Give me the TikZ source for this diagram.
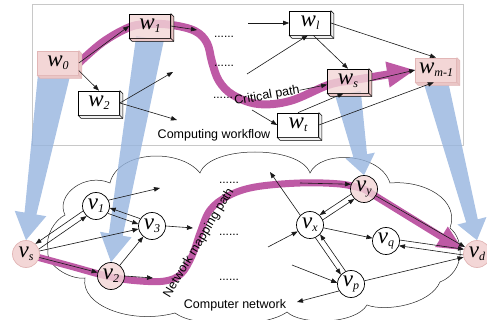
\documentclass[tikz,border=0pt]{standalone}
\usepackage{fontspec}
\setmainfont{Liberation Serif}
\setsansfont{Liberation Sans}
\usetikzlibrary{arrows.meta,calc}

\pgfdeclarelayer{bg}
\pgfdeclarelayer{hl}
\pgfdeclarelayer{flow}
\pgfsetlayers{bg,hl,flow,main}

\definecolor{pinkfill}{RGB}{243,214,214}
\definecolor{pinkedge}{RGB}{226,182,182}
\definecolor{pinkside}{RGB}{234,198,198}
\definecolor{magline}{RGB}{190,90,165}
\definecolor{flowcol}{RGB}{150,180,222}
\definecolor{framegray}{RGB}{200,200,200}

% italic label with a lowered subscript
\newcommand{\wlab}[2]{{\fontsize{23}{23}\selectfont\itshape #1}{\fontsize{12}{12}\selectfont\itshape\raisebox{-3pt}{#2}}}

% extruded right and bottom faces of a task box
\newcommand{\taskside}[3]{%
  \filldraw[fill=#2, draw=#3, line width=0.6pt, line join=round]
    (#1.north east) -- ++(3,3) -- ($(#1.south east)+(3,3)$) -- ($(#1.south west)+(3,3)$)
    -- (#1.south west) -- (#1.south east) -- cycle;
  \draw[#3, line width=0.6pt] (#1.south east) -- ++(3,3);}

% broad tapering block arrow: name, start, tip, start half-width, neck half-width, head half-width, head length
\newcommand{\mapflow}[7]{%
  \coordinate (#1h) at ($(#3)!#7!(#2)$);
  \fill[flowfill] ($(#2)!#4!90:(#3)$) -- ($(#1h)!#5!90:(#3)$) -- ($(#1h)!#6!90:(#3)$) -- (#3)
    -- ($(#1h)!#6!-90:(#3)$) -- ($(#1h)!#5!-90:(#3)$) -- ($(#2)!#4!-90:(#3)$) -- cycle;}

\tikzset{
  task/.style={rectangle, minimum width=41pt, minimum height=24pt, inner sep=0pt,
    draw=black, line width=0.7pt, fill=white},
  hottask/.style={task, fill=pinkfill, fill opacity=0.8, text opacity=1},
  softtask/.style={task, draw=pinkedge, fill=pinkfill},
  host/.style={circle, minimum size=27pt, inner sep=0pt, draw=black, line width=0.7pt, fill=white},
  hothost/.style={host, fill=pinkfill, fill opacity=0.8, text opacity=1},
  softhost/.style={host, draw=pinkedge, fill=pinkfill},
  link/.style={line width=0.6pt, draw=black!90, -{Triangle[length=6pt,width=4.5pt]}},
  hilite/.style={line width=8pt, draw=magline, line cap=round, line join=round},
  flowfill/.style={fill=flowcol, fill opacity=0.8},
  dotrow/.style={font=\sffamily\fontsize{12}{12}\selectfont, inner sep=0pt},
  caption/.style={font=\sffamily\fontsize{12.5}{12.5}\selectfont, inner sep=0pt},
}

\begin{document}
\begin{tikzpicture}[x=1pt,y=-1pt]
\useasboundingbox (0,0) rectangle (487,320);

% ---------- workflow tasks ----------
\node[softtask] (w0) at (58,63) {\wlab{w}{0}};
\node[hottask] (w1) at (150,26) {\wlab{w}{1}};
\node[task] (w2) at (99,103) {\wlab{w}{2}};
\node[task] (wl) at (310,23) {\wlab{w}{l}};
\node[hottask] (ws) at (348,81) {\wlab{w}{s}};
\node[softtask] (wm) at (436,70) {\wlab{w}{m-1}};
\node[task] (wt) at (298,125) {\wlab{w}{t}};

\taskside{w0}{pinkside}{pinkedge}
\taskside{w1}{pinkside}{black}
\taskside{w2}{black!6}{black}
\taskside{wl}{black!6}{black}
\taskside{ws}{pinkside}{black}
\taskside{wm}{pinkside}{pinkedge}
\taskside{wt}{black!6}{black}

% ---------- network hosts ----------
\node[softhost] (vs) at (26,254) {\wlab{v}{s}};
\node[host] (v1) at (96,206) {\wlab{v}{1}};
\node[host] (v3) at (152,226) {\wlab{v}{3}};
\node[hothost] (v2) at (111,276) {\wlab{v}{2}};
\node[host] (vx) at (310,225) {\wlab{v}{x}};
\node[hothost] (vy) at (364,189) {\wlab{v}{y}};
\node[host] (vq) at (386,241) {\wlab{v}{q}};
\node[host] (vp) at (351,284) {\wlab{v}{p}};
\node[softhost] (vd) at (477,254) {\wlab{v}{d}};

% ---------- texts ----------
\node[caption] at (214,135) {Computing workflow};
\node[caption] at (235,305) {Computer network};
\node[caption, rotate=10] (cp) at (267,96) {Critical path};
\node[caption, rotate=59] at (199,243) {Network mapping path};

\node[dotrow] at (224,37) {......};
\node[dotrow] at (224,66) {......};
\node[dotrow] at (223,98) {......};
\node[dotrow] at (229,183) {......};
\node[dotrow] at (229,235) {......};
\node[dotrow] at (229,280) {......};

% ---------- open ends ----------
\coordinate (c1) at (197,30);
\coordinate (c2) at (173,72);
\coordinate (c3) at (177,120);
\coordinate (c4) at (248,23);
\coordinate (c5) at (247,74);
\coordinate (c6) at (252,110);
\coordinate (c7) at (160,188);
\coordinate (c8) at (193,228);
\coordinate (c9) at (153,278);
\coordinate (c10) at (270,172);
\coordinate (c11) at (300,183);
\coordinate (c12) at (268,247);
\coordinate (c13) at (292,265);
\coordinate (c14) at (297,302);

% ---------- workflow dependencies ----------
\draw[link] (w0.east) -- (w1.west);
\draw[link] (w0.-20) -- (w2.north);
\draw[link] (w1.east) -- (c1);
\draw[link] (w2.east) -- (c2);
\draw[link] (w2.east) -- (c3);
\draw[link] (c4) -- (wl.west);
\draw[link] (c5) -- (wl.-100);
\draw[link] (wl.-75) -- (ws.north);
\draw[link] (wl.east) -- (wm.north);
\draw[link] (cp.east) -- (ws.-170);
\draw[link] (ws.east) -- (wm.west);
\draw[link] (c6) -- (wt.west);
\draw[link] (wt.north) -- (ws.-110);
\draw[link] (wt.east) -- (wm.-100);

% ---------- network links ----------
\draw[link] (v1.25) -- (c7);
\draw[link] (vs.21) -- (v1.227);
\draw[link] (v1.201) -- (vs.47);
\draw[link] (vs) -- (v3);
\draw[link] (vs) -- (v2);
\draw[link] (v1.-32) -- (v3.172);
\draw[link] (v3.148) -- (v1.-8);
\draw[link] (v2) -- (v3);
\draw[link] (v3.east) -- (c8);
\draw[link] (v2.east) -- (c9);
\draw[link] (vx.135) -- (c10);
\draw[link] (c11) -- (vy.160);
\draw[link] (vy.202) -- (vx.46);
\draw[link] (vx.22) -- (vy.226);
\draw[link] (c12) -- (vx);
\draw[link] (vx) -- (vq);
\draw[link] (vp.113) -- (vx.-43);
\draw[link] (vx.-67) -- (vp.137);
\draw[link] (c13) -- (vp.175);
\draw[link] (vp.-150) -- (c14);
\draw[link] (vp) -- (vd);
\draw[link] (vq.4) -- (vd.160);
\draw[link] (vd.184) -- (vq.-20);
\draw[link] (vy) -- (vd);

% ---------- frame and cloud ----------
\begin{pgfonlayer}{bg}
  \draw[framegray, line width=0.6pt] (32,4) rectangle (463,145);
  \draw[black!85, line width=0.5pt]
    (65,215) .. controls (55,195) and (85,172) .. (110,183)
    .. controls (118,150) and (180,148) .. (200,173)
    .. controls (210,145) and (300,145) .. (310,173)
    .. controls (320,150) and (380,152) .. (390,183)
    .. controls (425,180) and (460,200) .. (450,228)
    .. controls (465,240) and (465,272) .. (440,282)
    .. controls (430,305) and (385,312) .. (367,305)
    .. controls (355,325) and (300,325) .. (287,312)
    .. controls (265,328) and (195,328) .. (175,313)
    .. controls (130,325) and (80,305) .. (85,278)
    .. controls (70,280) and (45,265) .. (48,250)
    .. controls (45,235) and (55,220) .. (65,215) -- cycle;
\end{pgfonlayer}

% ---------- highlighted paths ----------
\begin{pgfonlayer}{hl}
  \draw[hilite] plot[smooth, tension=0.6] coordinates {(w0.east) (103,42) (130,27) (150,24) (172,25)
    (195,31) (207,43) (212,62) (219,81) (233,95) (258,104) (290,101) (328,85) (ws.center)};
  \draw[hilite, line cap=butt, -{Triangle[length=28pt 0,width=24pt 0]}] (ws.center) -- (wm.west);
  \draw[hilite, line width=7pt] plot[smooth, tension=0.6] coordinates {(vs.center) (70,266) (111,277)
    (140,281) (165,281) (181,274) (192,256) (200,233) (210,210) (228,196) (255,187) (300,183)
    (340,184) (vy.center)};
  \draw[hilite, line width=7pt, line cap=butt, -{Triangle[length=26pt 0,width=22pt 0]}] (vy.center) -- (vd.165);
\end{pgfonlayer}

% ---------- task-to-host mapping arrows ----------
\begin{pgfonlayer}{flow}
  \coordinate (a0) at ($(w0.south)+(-4,-1)$);
  \mapflow{f0}{a0}{vs.north}{16pt}{6pt}{16pt}{27pt}
  \mapflow{f1}{w1.south}{v2.north}{14pt}{7pt}{16pt}{28pt}
  \mapflow{f2}{ws.south}{vy.north}{13pt}{7pt}{15pt}{20pt}
  \mapflow{f3}{wm.south}{vd.north}{12pt}{6pt}{15pt}{20pt}
\end{pgfonlayer}
\end{tikzpicture}
\end{document}
